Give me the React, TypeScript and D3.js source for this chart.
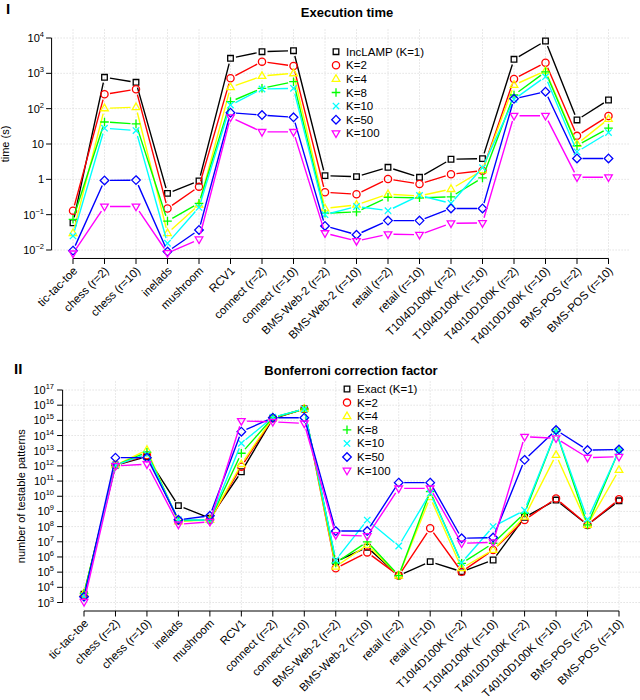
import React from "react";
import * as d3 from "d3";

// datasets on the x axis (shared by both panels)
const datasets = [
  "tic-tac-toe",
  "chess (r=2)",
  "chess (r=10)",
  "inelads",
  "mushroom",
  "RCV1",
  "connect (r=2)",
  "connect (r=10)",
  "BMS-Web-2 (r=2)",
  "BMS-Web-2 (r=10)",
  "retail (r=2)",
  "retail (r=10)",
  "T10I4D100K (r=2)",
  "T10I4D100K (r=10)",
  "T40I10D100K (r=2)",
  "T40I10D100K (r=10)",
  "BMS-POS (r=2)",
  "BMS-POS (r=10)",
];

const timeNames = ["IncLAMP (K=1)", "K=2", "K=4", "K=8", "K=10", "K=50", "K=100"];
const bonfNames = ["Exact (K=1)", "K=2", "K=4", "K=8", "K=10", "K=50", "K=100"];

const colors = ["#000000", "#ff0000", "#ffff00", "#00ff00", "#00ffff", "#0000ff", "#ff00ff"];
const shapes = ["square", "circle", "triangle", "plus", "times", "diamond", "triangleDown"];

// execution time in seconds
const timeK1 = [0.059, 773, 557, 0.4, 0.9, 2660, 4100, 4370, 1.27, 1.19, 2.19, 1.14, 3.7, 3.85, 2495, 8230, 48, 176];
const timeK2 = [0.13, 255, 353, 0.15, 0.62, 724, 2140, 1615, 0.43, 0.38, 1.02, 0.74, 1.39, 1.76, 692, 2000, 17, 62];
const timeK4 = [0.03, 102, 110, 0.03, 0.19, 403, 840, 1000, 0.15, 0.19, 0.38, 0.34, 0.53, 1.8, 468, 1165, 10, 51];
const timeK8 = [0.074, 42, 37, 0.066, 0.21, 158, 377, 580, 0.11, 0.12, 0.31, 0.3, 0.32, 1.1, 244, 1100, 9, 28];
const timeK10 = [0.025, 28, 24, 0.0155, 0.16, 127, 360, 377, 0.1, 0.17, 0.13, 0.35, 0.21, 2.14, 184, 804, 6, 21];
const timeK50 = [0.0096, 0.93, 0.95, 0.009, 0.037, 77, 66, 57, 0.048, 0.027, 0.068, 0.068, 0.15, 0.15, 190, 302, 3.9, 3.9];
const timeK100 = [0.008, 0.17, 0.17, 0.0082, 0.02, 57, 22, 22, 0.03, 0.018, 0.028, 0.027, 0.057, 0.058, 63, 63, 1.14, 1.14];

// number of testable patterns (Bonferroni factor)
const bonfK1 = [3.5e3, 1.1e12, 4e12, 2.4e9, 3.6e8, 4.1e11, 1.3e15, 5.6e15, 4.9e5, 4.4e6, 5.9e4, 4.9e5, 1.07e5, 6.3e5, 4.1e8, 5.6e9, 1.3e8, 5e9];
const bonfK2 = [3e3, 1.1e12, 5e12, 2.5e8, 2.7e8, 8.9e11, 1.4e15, 5.6e15, 1.8e5, 2e6, 5.9e4, 7.8e7, 1.07e5, 2.9e6, 2.7e8, 7.2e9, 1.3e8, 6.3e9];
const bonfK4 = [4e3, 1.1e12, 1.1e13, 2.2e8, 2.7e8, 1.27e12, 1.5e15, 5.6e15, 2.3e5, 6.2e6, 5.9e4, 8.5e9, 1.8e5, 2.9e6, 4.5e8, 5.2e12, 1.3e8, 5.4e11];
const bonfK8 = [4e3, 1.1e12, 8e12, 2.5e8, 2.7e8, 6.8e12, 1.5e15, 5.6e15, 4e5, 1e7, 5.9e4, 2e10, 3.8e5, 8e6, 7.6e8, 1.8e14, 1.3e8, 1.1e13];
const bonfK10 = [2.5e3, 1.1e12, 6e12, 2.8e8, 2.7e8, 3.1e13, 1.6e15, 5.6e15, 6.3e5, 2.7e8, 5.3e6, 1.6e10, 4.2e5, 1e8, 1.2e9, 1.8e14, 3e8, 1e13];
const bonfK50 = [2.4e3, 3.5e12, 3.5e12, 2.8e8, 5.2e8, 1.8e14, 1.5e15, 1.5e15, 5.1e7, 5.1e7, 7.9e10, 7.9e10, 1.7e7, 1.9e7, 2.5e12, 2.3e14, 1.1e13, 1.2e13];
const bonfK100 = [1.1e3, 1e12, 1.3e12, 1.4e8, 2.1e8, 9.1e14, 8e14, 6.3e14, 2.8e7, 2.4e7, 3.3e10, 3.3e10, 7.9e6, 9.3e6, 8.3e13, 6.6e13, 3.5e12, 4e12];

const timeSeries = [timeK1, timeK2, timeK4, timeK8, timeK10, timeK50, timeK100];
const bonfSeries = [bonfK1, bonfK2, bonfK4, bonfK8, bonfK10, bonfK50, bonfK100];

const timeExponents = [-2, -1, 0, 1, 2, 3, 4];
const bonfExponents = d3.range(3, 18);

const FONT = "'Liberation Sans', Arial, Helvetica, sans-serif";

function Marker({ shape, color, x, y }) {
  const common = { fill: "none", stroke: color, strokeWidth: 1.3 };
  if (shape === "circle") return <circle cx={x} cy={y} r={3.6} {...common} />;
  let d = "";
  switch (shape) {
    case "square":
      d = "M-2.8,-2.8H2.8V2.8H-2.8Z";
      break;
    case "triangle":
      d = "M0,-4.2L3.8,2.4L-3.8,2.4Z";
      break;
    case "plus":
      d = "M-4.3,0H4.3M0,-4.3V4.3";
      break;
    case "times":
      d = "M-3.2,-3.2L3.2,3.2M-3.2,3.2L3.2,-3.2";
      break;
    case "diamond":
      d = "M0,-4.3L4.3,0L0,4.3L-4.3,0Z";
      break;
    case "triangleDown":
      d = "M0,4.2L3.8,-2.4L-3.8,-2.4Z";
      break;
  }
  return <path d={d} transform={`translate(${x},${y})`} {...common} />;
}

function PowLabel({ x, y, e, plain }) {
  if (plain && e === 0) return <text x={x} y={y} textAnchor="end">1</text>;
  if (plain && e === 1) return <text x={x} y={y} textAnchor="end">10</text>;
  return (
    <text x={x} y={y} textAnchor="end">
      10
      <tspan dy={-5} fontSize={7.5}>{String(e).replace("-", "\u2212")}</tspan>
    </text>
  );
}

function Panel({ roman, romanX, romanY, title, titleX, titleY, yTitle, yTitleX, series, names,
  xFirst, xLast, yMin, yMax, yBottom, yTop, exponents, plainSmall, legendX, legendY, tickLabelX }) {
  const x = d3.scalePoint().domain(datasets).range([xFirst, xLast]);
  const y = d3.scaleLog().domain([yMin, yMax]).range([yBottom, yTop]);

  // R-style 4% padding around the data range
  const padX = (xLast - xFirst) * 0.04;
  const padY = (yBottom - yTop) * 0.04;
  const left = xFirst - padX;
  const right = xLast + padX;
  const top = yTop - padY;
  const bottom = yBottom + padY;
  const gap = 5.5;

  return (
    <g>
      <text x={romanX} y={romanY} fontSize={15} fontWeight="bold">{roman}</text>
      <text x={titleX} y={titleY} fontSize={13} fontWeight="bold" textAnchor="middle">{title}</text>
      <text transform={`translate(${yTitleX},${(top + bottom) / 2}) rotate(-90)`} fontSize={11} textAnchor="middle">
        {yTitle}
      </text>

      {/* grid */}
      <g stroke="#d3d3d3" strokeWidth={1} strokeDasharray="1,2">
        {datasets.map((c) => (
          <line key={c} x1={x(c)} x2={x(c)} y1={top} y2={bottom} />
        ))}
        {exponents.map((e) => (
          <line key={e} x1={left} x2={right} y1={y(Math.pow(10, e))} y2={y(Math.pow(10, e))} />
        ))}
      </g>

      {/* y axis */}
      <g stroke="#000" strokeWidth={1}>
        <line x1={left} x2={left} y1={y(yMin)} y2={y(yMax)} />
        {exponents.map((e) => (
          <line key={e} x1={left - 5.5} x2={left} y1={y(Math.pow(10, e))} y2={y(Math.pow(10, e))} />
        ))}
      </g>
      <g fontSize={11}>
        {exponents.map((e) => (
          <PowLabel key={e} x={tickLabelX} y={y(Math.pow(10, e)) + 4} e={e} plain={plainSmall} />
        ))}
      </g>

      {/* x axis */}
      <g stroke="#000" strokeWidth={1}>
        <line x1={xFirst} x2={xLast} y1={bottom} y2={bottom} />
        {datasets.map((c) => (
          <line key={c} x1={x(c)} x2={x(c)} y1={bottom} y2={bottom + 5.5} />
        ))}
      </g>
      <g fontSize={11.5}>
        {datasets.map((c) => (
          <text key={c} transform={`translate(${x(c) + 5},${bottom + 13}) rotate(-45)`} textAnchor="end">
            {c}
          </text>
        ))}
      </g>

      {/* series: lines with gaps at the points, then the points */}
      {series.map((vals, k) => {
        const pts = vals.map((v, i) => [x(datasets[i]), y(v)]);
        const segs = [];
        for (let i = 0; i < pts.length - 1; i++) {
          const [x1, y1] = pts[i];
          const [x2, y2] = pts[i + 1];
          const len = Math.hypot(x2 - x1, y2 - y1);
          if (len <= 2 * gap) continue;
          const ux = (x2 - x1) / len;
          const uy = (y2 - y1) / len;
          segs.push(`M${x1 + ux * gap},${y1 + uy * gap}L${x2 - ux * gap},${y2 - uy * gap}`);
        }
        return (
          <g key={k}>
            <path d={segs.join("")} fill="none" stroke={colors[k]} strokeWidth={1.4} />
            {pts.map(([px, py], i) => (
              <Marker key={i} shape={shapes[k]} color={colors[k]} x={px} y={py} />
            ))}
          </g>
        );
      })}

      {/* legend */}
      <g fontSize={11.5}>
        {names.map((n, k) => (
          <g key={n}>
            <Marker shape={shapes[k]} color={colors[k]} x={legendX} y={legendY + k * 13.6} />
            <text x={legendX + 10} y={legendY + k * 13.6 + 4}>{n}</text>
          </g>
        ))}
      </g>
    </g>
  );
}

export default function App() {
  return (
    <svg
      width={640}
      height={700}
      style={{ position: "absolute", left: 0, top: 0, background: "#fff" }}
      fontFamily={FONT}
    >
      <rect width={640} height={700} fill="#fff" />
      <Panel
        roman="I" romanX={6} romanY={14}
        title="Execution time" titleX={347} titleY={17}
        yTitle="time (s)" yTitleX={9}
        series={timeSeries} names={timeNames}
        xFirst={73} xLast={608.5}
        yMin={1e-2} yMax={1e4} yBottom={250} yTop={38}
        exponents={timeExponents} plainSmall={true}
        legendX={336} legendY={51.7} tickLabelX={44}
      />
      <Panel
        roman="II" romanX={14} romanY={374}
        title="Bonferroni correction factor" titleX={351} titleY={375}
        yTitle="number of testable patterns" yTitleX={25}
        series={bonfSeries} names={bonfNames}
        xFirst={84} xLast={619}
        yMin={1e3} yMax={1e17} yBottom={602.5} yTop={390}
        exponents={bonfExponents} plainSmall={false}
        legendX={347} legendY={389} tickLabelX={54}
      />
    </svg>
  );
}
